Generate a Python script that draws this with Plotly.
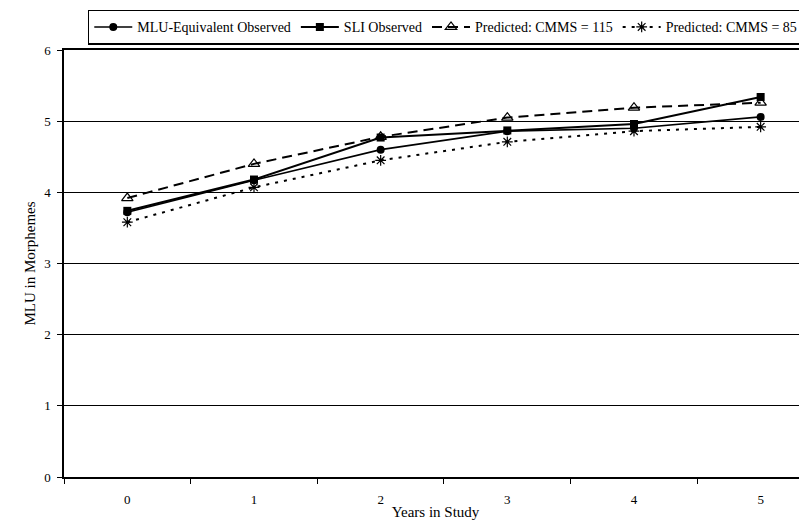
import plotly.graph_objects as go

years = [0, 1, 2, 3, 4, 5]
year_labels = ["0", "1", "2", "3", "4", "5"]
mlu_equivalent = [3.72, 4.17, 4.60, 4.86, 4.90, 5.06]
sli_observed = [3.74, 4.18, 4.77, 4.87, 4.96, 5.34]
pred_115 = [3.92, 4.40, 4.78, 5.05, 5.19, 5.26]
pred_85 = [3.58, 4.07, 4.45, 4.71, 4.86, 4.92]

FONT = "Liberation Serif"

fig = go.Figure()
fig.add_trace(go.Scatter(x=years, y=mlu_equivalent, name="MLU-Equivalent Observed",
                         mode="lines+markers",
                         line=dict(color="black", width=1.6),
                         marker=dict(symbol="circle", size=8, color="black")))
fig.add_trace(go.Scatter(x=years, y=sli_observed, name="SLI Observed",
                         mode="lines+markers",
                         line=dict(color="black", width=2),
                         marker=dict(symbol="square", size=8, color="black")))
fig.add_trace(go.Scatter(x=years, y=pred_115, name="Predicted: CMMS = 115",
                         mode="lines+markers",
                         line=dict(color="black", width=2, dash="10px,6px"),
                         marker=dict(symbol="triangle-up-open", size=10, color="black",
                                     line=dict(width=1.2, color="black"))))
fig.add_trace(go.Scatter(x=years, y=pred_85, name="Predicted: CMMS = 85",
                         mode="lines+markers",
                         line=dict(color="black", width=2, dash="3px,6px"),
                         marker=dict(symbol="asterisk-open", size=9, color="black",
                                     line=dict(width=1.2, color="black"))))

# The page body adds an 8px offset, so the figure is sized/margined to compensate.
fig.update_layout(
    width=799, height=513,
    margin=dict(l=56, r=0, t=42, b=44, autoexpand=False),
    paper_bgcolor="white", plot_bgcolor="white",
    font=dict(family=FONT, size=13, color="black"),
    showlegend=True,
    legend=dict(orientation="h", x=0.032, y=1.094, xanchor="left", yanchor="top",
                bordercolor="black", borderwidth=1.5, bgcolor="white",
                font=dict(family=FONT, size=14, color="black"),
                itemwidth=38, tracegroupgap=0, traceorder="normal"),
    xaxis=dict(range=[-0.5, 5.366], tickvals=years, ticktext=year_labels,
               ticks="", showgrid=False, zeroline=False,
               showline=True, linecolor="black", linewidth=1.5, mirror=True,
               minor=dict(tick0=0.5, dtick=1, ticks="outside", ticklen=5,
                          tickcolor="black", tickwidth=1, showgrid=False),
               tickfont=dict(size=13), ticklabelstandoff=10,
               title=dict(text="Years in Study", font=dict(size=15), standoff=0)),
    yaxis=dict(range=[0, 6], tickvals=[0, 1, 2, 3, 4, 5, 6], ticks="outside",
               ticklen=5, tickcolor="black", tickwidth=1,
               showgrid=True, gridcolor="black", gridwidth=1, zeroline=False,
               showline=True, linecolor="black", linewidth=1.5,
               tickfont=dict(size=13), ticklabelstandoff=4,
               title=dict(text="MLU in Morphemes", font=dict(size=15), standoff=5)),
)

fig.write_html("out.html")
